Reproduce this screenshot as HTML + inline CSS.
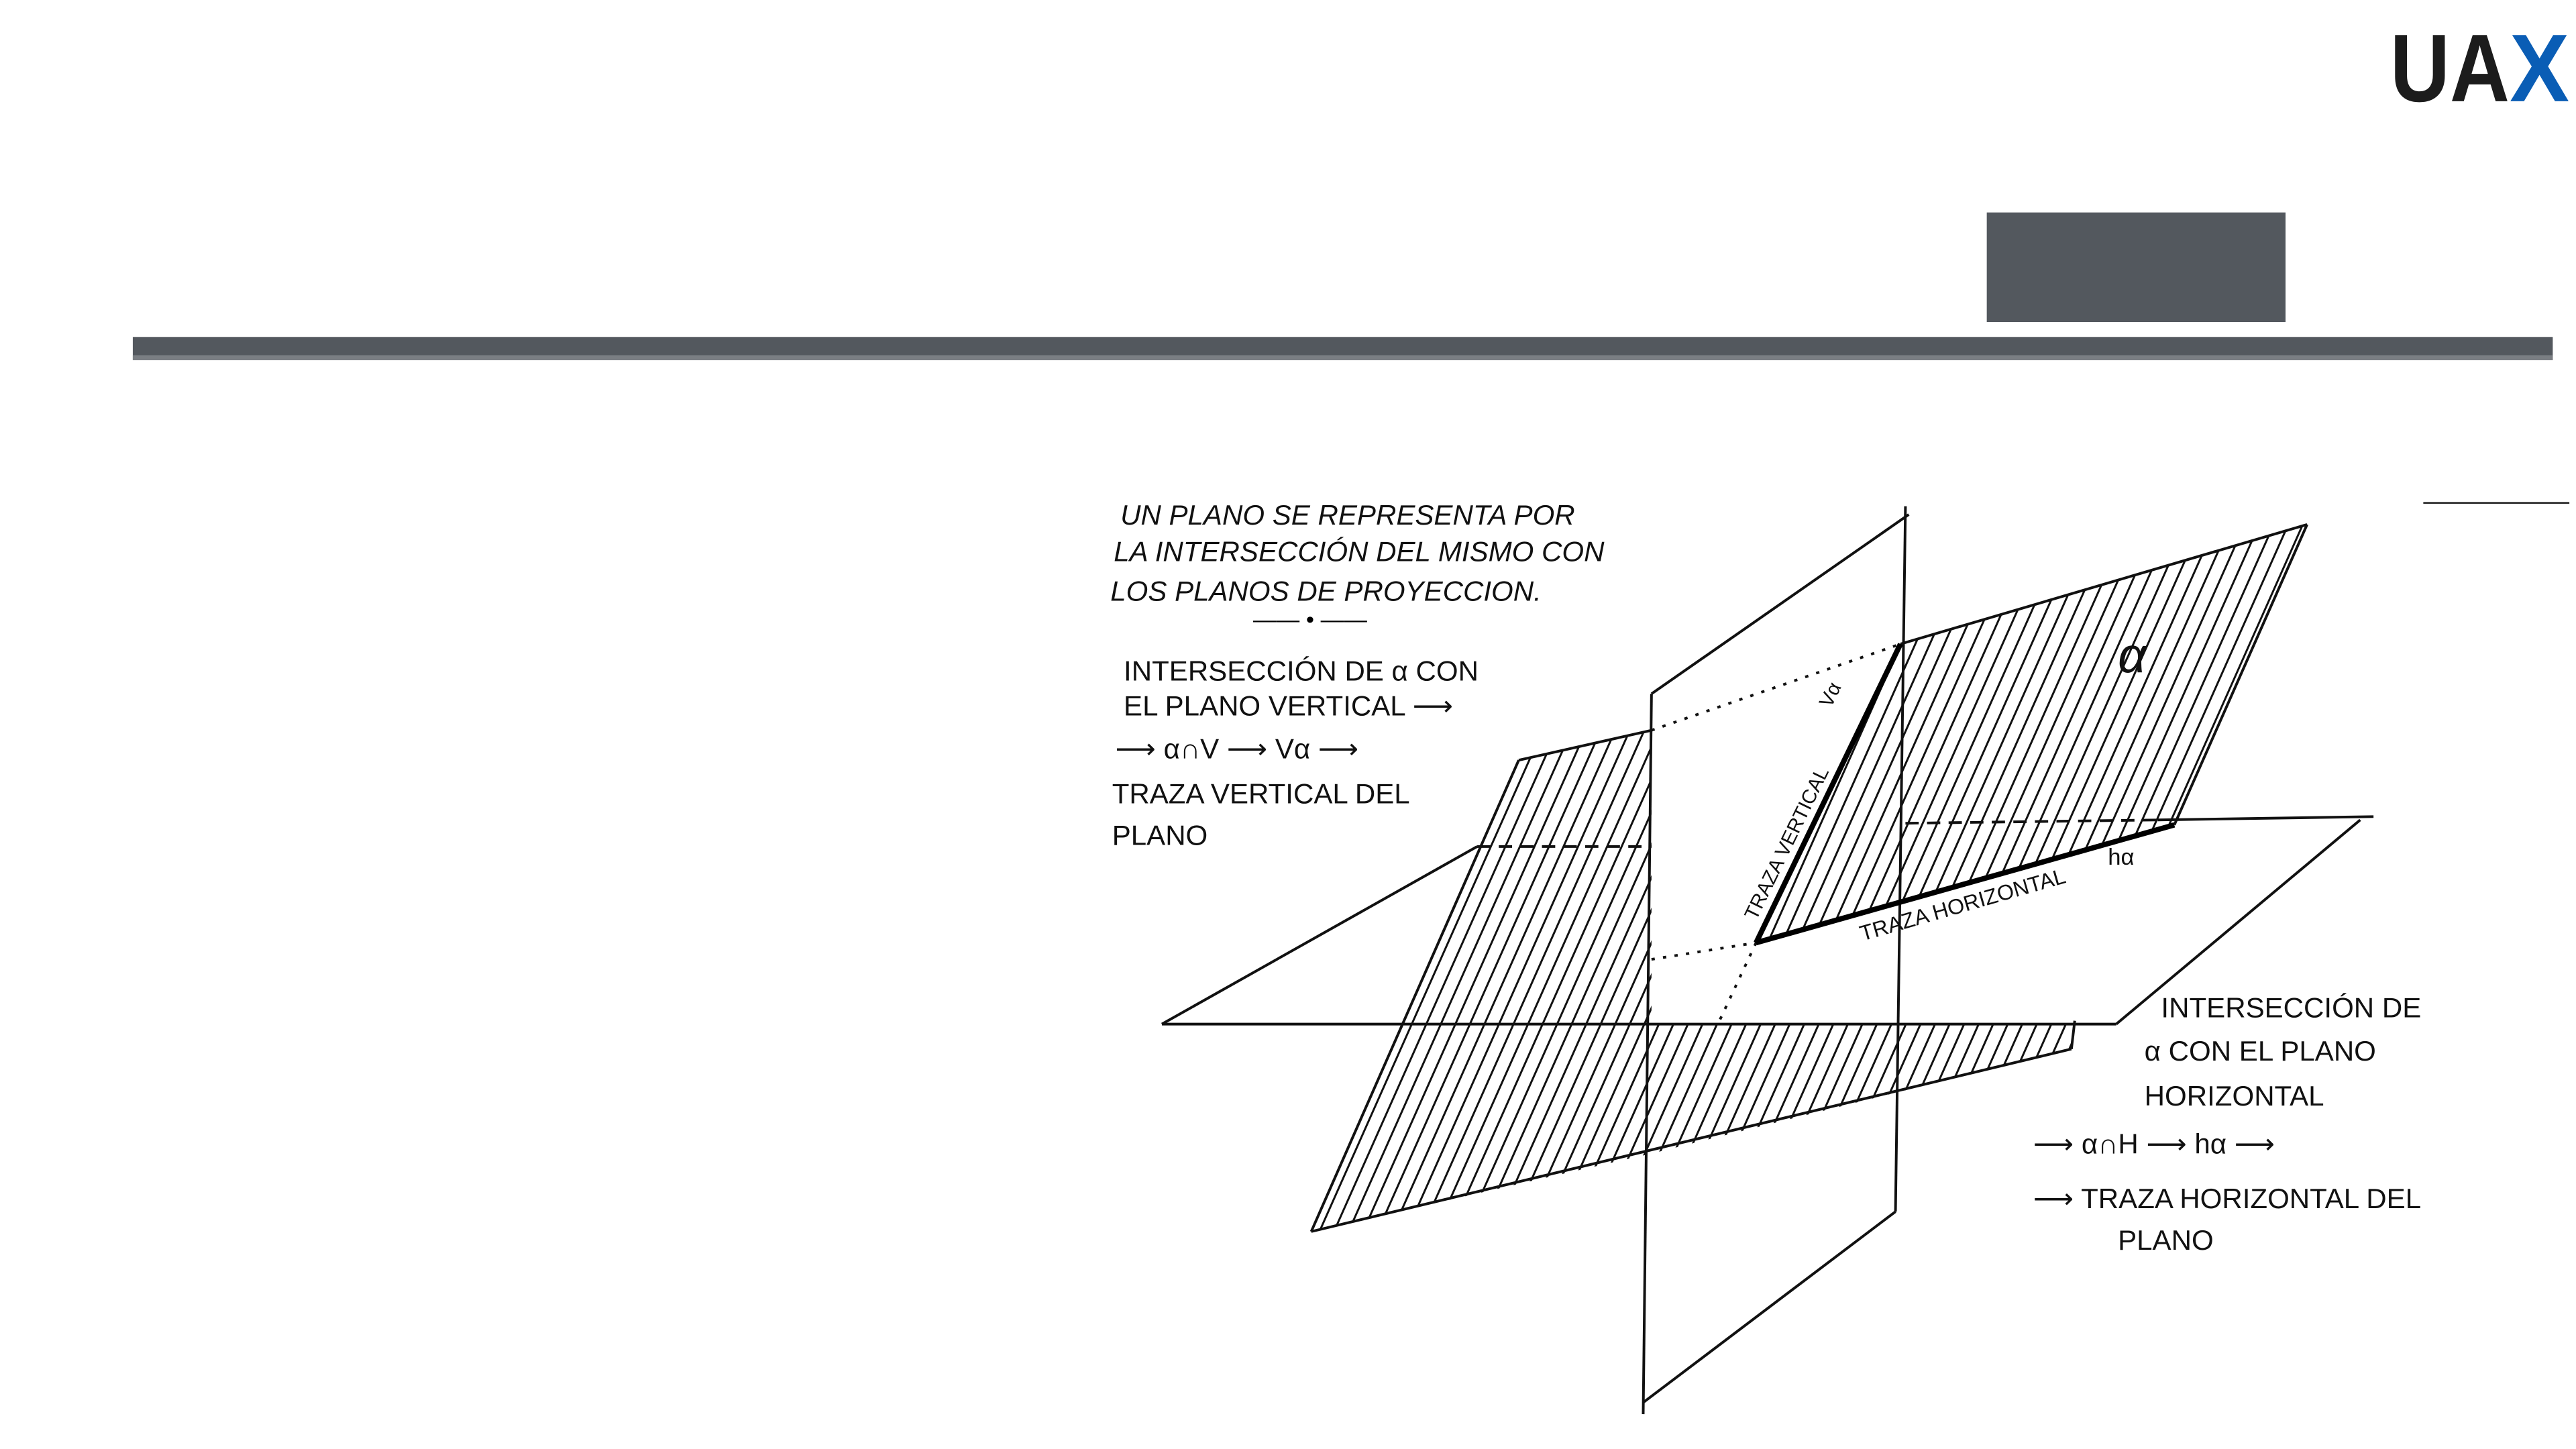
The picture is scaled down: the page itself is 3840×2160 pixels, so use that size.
<!DOCTYPE html>
<html><head><meta charset="utf-8"><style>
html,body{margin:0;padding:0;background:#fff;}
body{width:3840px;height:2160px;overflow:hidden;position:relative;font-family:"Liberation Sans",sans-serif;}
svg{position:absolute;left:0;top:0;}
</style></head><body>
<svg width="3840" height="2160" viewBox="0 0 1552 873" preserveAspectRatio="none">
<defs>
<pattern id="h" width="8" height="20" patternUnits="userSpaceOnUse" patternTransform="rotate(24)">
<line x1="4" y1="0" x2="4" y2="20" stroke="#111" stroke-width="1.2"/>
</pattern>
</defs>
<!-- logo -->
<text x="1440" y="61" font-size="58" font-weight="bold" fill="#1c1c1c" style="font-family:'Liberation Sans Narrow','Liberation Sans',sans-serif" textLength="72" lengthAdjust="spacingAndGlyphs">UA</text>
<text x="1512" y="61" font-size="58" font-weight="bold" fill="#0a5db5" style="font-family:'Liberation Sans Narrow','Liberation Sans',sans-serif" textLength="36" lengthAdjust="spacingAndGlyphs">X</text>
<rect x="1197" y="128" width="180" height="66" fill="#53585e"/>
<rect x="80" y="203" width="1458" height="14" fill="#53585e"/>
<rect x="80" y="214" width="1458" height="3" fill="#7a7e83"/>
<!-- hatched regions -->
<polygon points="1145,388 1390,316 1310,497 1058,568" fill="url(#h)"/>
<polygon points="915,458 995,440 995,617 1250,617 1248,632 995,695 790,742" fill="url(#h)"/>
<g stroke="#111" stroke-width="1.6" fill="none">
<!-- vertical plane -->
<line x1="995" y1="418" x2="990" y2="852"/>
<line x1="1148" y1="305" x2="1142" y2="730"/>
<line x1="995" y1="418" x2="1150" y2="310"/>
<line x1="990" y1="845" x2="1142" y2="730"/>
<!-- horizontal plane -->
<line x1="700" y1="617" x2="1275" y2="617"/>
<line x1="700" y1="617" x2="890" y2="510"/>
<line x1="1275" y1="617" x2="1422" y2="494"/>
<line x1="1300" y1="494" x2="1430" y2="492"/>
<line x1="890" y1="510" x2="995" y2="510" stroke-dasharray="8,5"/>
<line x1="1148" y1="496" x2="1300" y2="494" stroke-dasharray="8,5"/>
<!-- alpha plane edges -->
<line x1="1145" y1="388" x2="1390" y2="316"/>
<line x1="1390" y1="316" x2="1310" y2="497"/>
<line x1="915" y1="458" x2="995" y2="440"/>
<line x1="915" y1="458" x2="790" y2="742"/>
<line x1="790" y1="742" x2="1248" y2="632"/>
<line x1="1250" y1="615" x2="1248" y2="632"/>
<line x1="995" y1="440" x2="1145" y2="388" stroke-dasharray="2,5"/>
<line x1="995" y1="578" x2="1058" y2="568" stroke-dasharray="2,5"/>
<line x1="1058" y1="568" x2="1035" y2="617" stroke-dasharray="2,5"/>
<line x1="1460" y1="303" x2="1548" y2="303" stroke-width="1"/>
</g>
<g stroke="#000" stroke-width="3.2">
<line x1="1058" y1="568" x2="1145" y2="388"/>
<line x1="1058" y1="568" x2="1310" y2="497"/>
</g>
<g font-style="italic" font-size="17" fill="#111">
<text x="675" y="316">UN PLANO SE REPRESENTA POR</text>
<text x="671" y="338">LA INTERSECCIÓN DEL MISMO CON</text>
<text x="669" y="362">LOS PLANOS DE PROYECCION.</text>
</g>
<text x="755" y="378" font-size="14">—— • ——</text>
<g font-size="17" fill="#111">
<text x="677" y="410">INTERSECCIÓN DE α CON</text>
<text x="677" y="431">EL PLANO VERTICAL ⟶</text>
<text x="672" y="457">⟶ α∩V ⟶ Vα ⟶</text>
<text x="670" y="484">TRAZA VERTICAL DEL</text>
<text x="670" y="509">PLANO</text>
<text x="1302" y="613">INTERSECCIÓN DE</text>
<text x="1292" y="639">α CON EL PLANO</text>
<text x="1292" y="666">HORIZONTAL</text>
<text x="1225" y="695">⟶ α∩H ⟶ hα ⟶</text>
<text x="1225" y="728">⟶ TRAZA HORIZONTAL DEL</text>
<text x="1276" y="753">PLANO</text>
<text x="1276" y="405" font-size="30" font-style="italic">α</text>
<text x="1270" y="521" font-size="14">hα</text>
<text font-size="12" transform="translate(1058,555) rotate(-64)">TRAZA VERTICAL</text>
<text font-size="12" transform="translate(1103,427) rotate(-64)">Vα</text>
<text font-size="13" transform="translate(1122,567) rotate(-16)">TRAZA   HORIZONTAL</text>
</g>
</svg>
</body></html>
